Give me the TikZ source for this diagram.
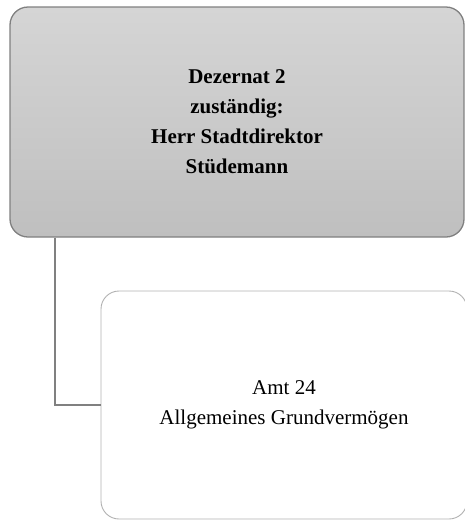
\documentclass[tikz,border=0pt]{standalone}
\usepackage{fontspec}
\setmainfont{Liberation Serif}
\usepackage{xcolor}
\usepackage{tikz}
\usetikzlibrary{positioning,calc}
\definecolor{framegrey}{RGB}{128,128,128}
\definecolor{shadetop}{RGB}{213,213,213}
\definecolor{shadebot}{RGB}{191,191,191}
\definecolor{lightframe}{RGB}{178,178,178}

\begin{document}
\begin{tikzpicture}[x=1pt, y=-1pt,
    headbox/.style={draw=framegrey, line width=1.3pt, rounded corners=18pt, top color=shadetop, bottom color=shadebot, minimum width=454pt, minimum height=230pt, align=center, font=\fontsize{21}{30}\selectfont\bfseries},
    unitbox/.style={draw=lightframe, line width=0.9pt, fill=white, rounded corners=18pt, minimum width=366pt, minimum height=228pt, align=center, font=\fontsize{21}{30}\selectfont},
    link/.style={draw=framegrey, line width=2pt}
]
\useasboundingbox (0,0) rectangle (465,520);

% Dezernat
\node[headbox] (dez) at (237,122) {Dezernat 2\\zuständig:\\Herr Stadtdirektor\\Stüdemann};

% Amt
\node[unitbox] (amt) at (284,405) {Amt 24\\Allgemeines Grundvermögen};

% connector
\coordinate (drop) at ($(dez.south west)+(46,0)$);
\draw[link] (drop) |- (amt.west);
\end{tikzpicture}
\end{document}
